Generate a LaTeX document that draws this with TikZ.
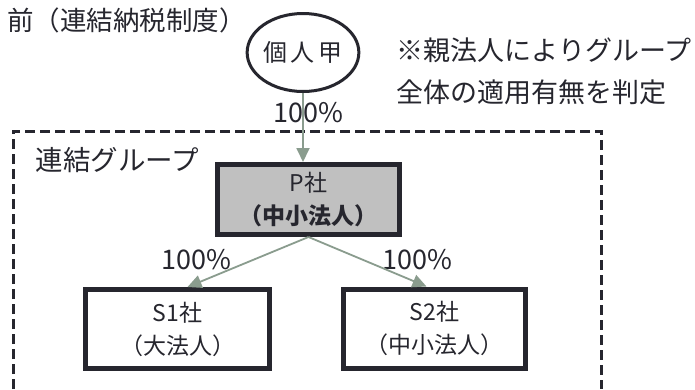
\documentclass[tikz,border=0pt]{standalone}
\usepackage{fontspec}
\setmainfont{Noto Sans CJK JP}
\usetikzlibrary{shapes.geometric,arrows.meta}
\definecolor{ink}{HTML}{26262E}
\definecolor{connc}{HTML}{8A9C8E}
\definecolor{pfill}{HTML}{C0C0C0}
\begin{document}
\begin{tikzpicture}[x=1pt,y=-1pt,
  every node/.style={text=ink},
  box/.style={draw=ink, line width=5pt, rectangle, inner sep=0pt, align=center, font=\fontsize{23}{33}\selectfont},
  conn/.style={draw=connc, line width=1.8pt, -{Triangle[width=13pt,length=14pt]}},
  big/.style={font=\fontsize{27.5}{30}\selectfont},
  pct/.style={font=\fontsize{27}{30}\selectfont}]
\useasboundingbox[fill=white] (0,0) rectangle (695,389);

\node[anchor=east, font=\fontsize{26.5}{30}\selectfont, inner sep=1pt] (title) at (247,20) {前（連結納税制度）};
\node[anchor=west, align=left, font=\fontsize{27}{42}\selectfont] (note) at (393,71) {※親法人によりグループ\\全体の適用有無を判定};

\node[ellipse, draw=ink, line width=3pt, minimum width=89pt, minimum height=78pt, inner sep=0pt, font=\fontsize{24}{28}\selectfont] (kojin) at (303,52.5) {個\hspace{3.5pt}人\hspace{3.5pt}甲};

\draw[ink, line width=3pt, dash pattern=on 10pt off 5pt] (13,389) -- (13,131) -- (601,131) -- (601,389);
\node[anchor=west, big] (grp) at (32,160) {連結グループ};

\node[pct] (l0) at (308,113) {100\%};
\node[pct] (l1) at (196,260) {100\%};
\node[pct] (l2) at (417,260) {100\%};

\node[box, fill=pfill, minimum width=182pt, minimum height=70pt] (P) at (308.5,199.5) {P社\\\textbf{（中小法人）}};
\node[box, fill=white, minimum width=184pt, minimum height=79pt] (S1) at (177.5,329) {S1社\\（大法人）};
\node[box, fill=white, minimum width=182pt, minimum height=79pt] (S2) at (434.5,328.5) {S2社\\（中小法人）};

\draw[conn] (kojin.south) -- (kojin.south |- P.north);
\draw[conn] (P.south) -- ([xshift=10pt]S1.north);
\draw[conn] (P.south) -- ([xshift=-8pt]S2.north);
\end{tikzpicture}
\end{document}
